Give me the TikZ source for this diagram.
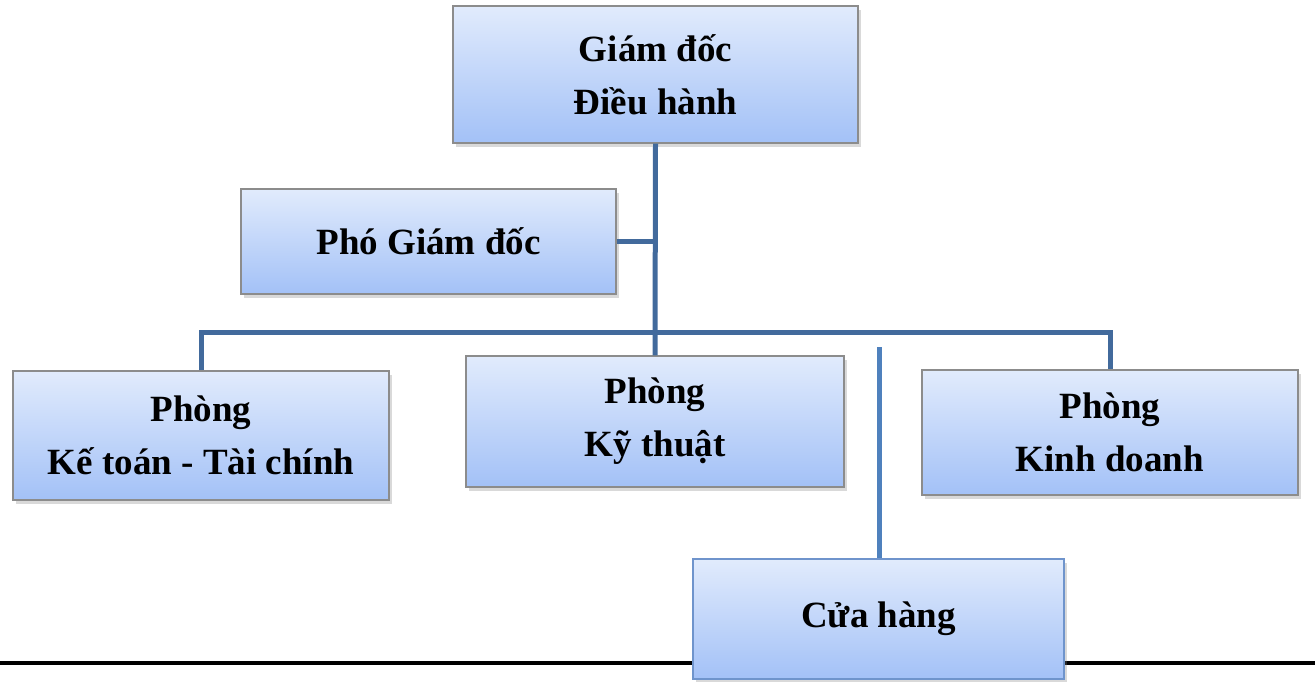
\documentclass[tikz,border=0pt]{standalone}
\usepackage{fontspec}
\setmainfont{Liberation Serif}
\usetikzlibrary{shadows}
\definecolor{linec}{HTML}{426A9C}
\definecolor{linec2}{HTML}{4F81BD}
\definecolor{boxtop}{HTML}{E1EBFC}
\definecolor{boxbot}{HTML}{A3C1F7}
\definecolor{boxborder}{HTML}{8C8C8C}
\definecolor{boxborder2}{HTML}{6F94CC}
\tikzset{
  orgbox/.style={draw=boxborder, line width=1.2pt, top color=boxtop, bottom color=boxbot,
    align=center, inner sep=0pt,
    font=\fontsize{37}{53}\selectfont\bfseries,
    drop shadow={opacity=0.3, shadow xshift=3pt, shadow yshift=-4pt}},
  conn/.style={draw=linec, line width=5pt},
  conn2/.style={draw=linec2, line width=5pt},
}
\begin{document}
\begin{tikzpicture}[x=1pt,y=-1pt]
\useasboundingbox (0,0) rectangle (1315,682);
\coordinate (bl) at (0,663);
\coordinate (br) at (1315,663);
\draw[black, line width=4pt] (bl) -- (br);
\node[orgbox, minimum width=405pt, minimum height=137pt] (gd) at (655.5,74.5) {Giám đốc\\Điều hành};
\node[orgbox, minimum width=375pt, minimum height=105pt] (pgd) at (428.5,241.5) {Phó Giám đốc};
\node[orgbox, minimum width=376pt, minimum height=129pt] (kttc) at (201,435.5) {Phòng\\Kế toán - Tài chính};
\node[orgbox, minimum width=378pt, minimum height=131pt] (kyt) at (655,421.5) {Phòng\\Kỹ thuật};
\node[orgbox, minimum width=376pt, minimum height=125pt] (kd) at (1110,432.5) {Phòng\\Kinh doanh};
\node[orgbox, draw=boxborder2, minimum width=371pt, minimum height=120pt] (ch) at (878.5,619) {Cửa hàng};
\coordinate (bus) at (655,332);
\coordinate (chtop) at (879,347);
\draw[conn] (gd.south) -- (kyt.north);
\draw[conn] (pgd.east) -- (pgd.east -| gd.south);
\draw[conn] (kttc.north) |- (bus) -| (kd.north);
\draw[conn2] (chtop) -- (ch.north -| chtop);
\end{tikzpicture}
\end{document}
